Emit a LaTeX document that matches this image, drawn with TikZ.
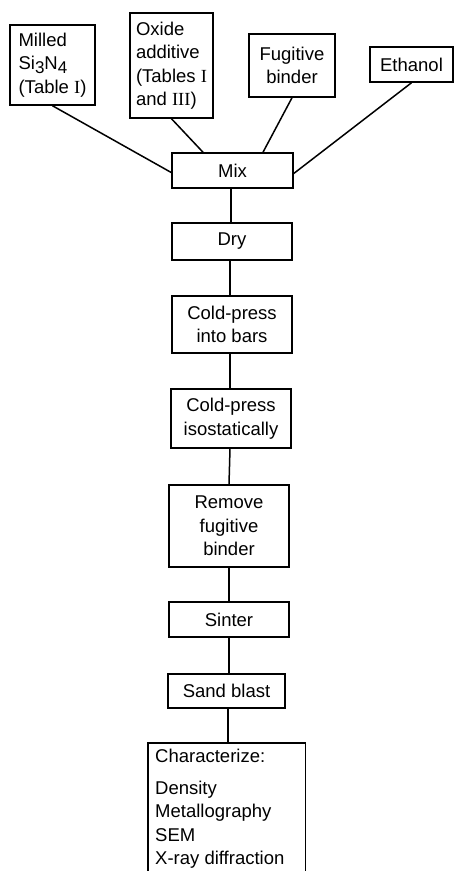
\documentclass[tikz,border=0pt]{standalone}
\usepackage{fontspec}
\setmainfont{Liberation Sans}
\newfontfamily\rmn{Liberation Serif}
\newcommand{\sbs}[1]{\raisebox{-4pt}{\fontsize{17}{17}\selectfont #1}}
\begin{document}
\begin{tikzpicture}[x=1pt,y=-1pt,
  every node/.style={font=\fontsize{18.5}{23.5}\selectfont},
  box/.style={draw, line width=1.5pt, inner sep=0pt, align=center},
  conn/.style={line width=1.5pt}]
\useasboundingbox (0,0) rectangle (454,871);
\clip (0,0) rectangle (454,871);
% top inputs
\node[box, minimum width=85pt, minimum height=80pt, align=left] (milled) at (52.5,65) {Milled\\Si\sbs{3}N\sbs{4}\\({Table \rmn I})};
\node[box, minimum width=83pt, minimum height=105pt, align=left] (oxide) at (171.5,65.5) {Oxide\\additive\\(Tables {\rmn I}\\and {\rmn III})};
\node[box, minimum width=86pt, minimum height=63pt] (fug) at (292,65.5) {Fugitive\\binder};
\node[box, minimum width=83pt, minimum height=35pt] (eth) at (411.5,64.5) {Ethanol};
% chain
\node[box, minimum width=121pt, minimum height=35pt] (mix) at (232.5,170.5) {Mix};
\node[box, minimum width=120pt, minimum height=37pt] (dry) at (232,241.5) {Dry};
\node[box, minimum width=120pt, minimum height=57pt] (cpb) at (232,324.5) {Cold-press\\into bars};
\node[box, minimum width=120pt, minimum height=59pt] (cpi) at (231,418.5) {Cold-press\\isostatically};
\node[box, minimum width=120pt, minimum height=82pt] (rem) at (229,526) {Remove\\fugitive\\binder};
\node[box, minimum width=120pt, minimum height=35pt] (sin) at (229,619.5) {Sinter};
\node[box, minimum width=117pt, minimum height=34pt] (sand) at (226.5,691) {Sand blast};
\node[anchor=north west, inner sep=0pt, minimum width=157pt, minimum height=140pt] (char) at (148,743) {};
\node[anchor=north west, inner sep=0pt, align=left] (chartext) at (155,749) {Characterize:\\[8pt]Density\\Metallography\\SEM\\X-ray diffraction};
\draw[conn] (char.south west) -- (char.north west) -- (char.north east) -- (char.south east);
% connectors
\draw[conn] (milled.south) -- ([yshift=-2pt]mix.west);
\draw[conn] (oxide.south) -- ([xshift=-29.5pt]mix.north);
\draw[conn] (fug.south) -- ([xshift=30.5pt]mix.north);
\draw[conn] (eth.south) -- ([yshift=-3pt]mix.east);
\draw[conn] ([xshift=-1.5pt]mix.south) -- ([xshift=-1pt]dry.north);
\draw[conn] ([xshift=-2pt]dry.south) -- ([xshift=-2pt]cpb.north);
\draw[conn] ([xshift=-2pt]cpb.south) -- ([xshift=-1pt]cpi.north);
\draw[conn] ([xshift=-1pt]cpi.south) -- (rem.north);
\draw[conn] (rem.south) -- (sin.north);
\draw[conn] (sin.south) -- ([xshift=2.5pt]sand.north);
\draw[conn] ([xshift=1.5pt]sand.south) -- ([xshift=1.5pt]sand.south |- char.north);
\end{tikzpicture}
\end{document}
